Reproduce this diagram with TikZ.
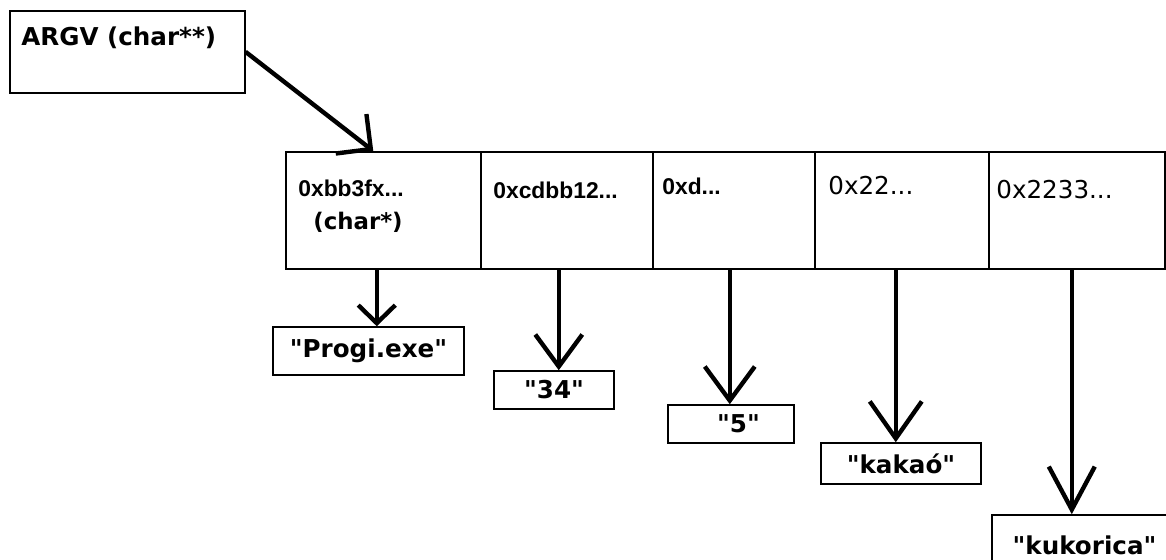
\documentclass[tikz,border=0pt]{standalone}
\usepackage{fontspec}
\setmainfont{DejaVu Sans}[Ligatures=TeXOff]
\newfontfamily\hexfont{Liberation Sans}
\usetikzlibrary{arrows.meta}

\tikzset{
  box/.style={draw, line width=0.9pt, inner sep=0pt, anchor=north west},
  strbox/.style={draw, line width=0.9pt, inner sep=0pt, font=\fontsize{14}{16}\selectfont\bfseries},
  lbl/.style={font=\fontsize{14}{16}\selectfont\bfseries, inner sep=0pt},
  hex/.style={font=\hexfont\fontsize{13}{15}\selectfont\bfseries, inner sep=0pt, anchor=west},
  hexr/.style={font=\fontsize{14}{16}\selectfont, inner sep=0pt, anchor=west},
  ptr/.style={line width=2.5pt, -{Straight Barb[#1]}},
  ptr/.default={length=0.65cm,width=0.95cm}
}

\begin{document}
\begin{tikzpicture}[x=0.02cm, y=-0.02cm]
        \clip (0,0) rectangle (1166,559);
        \fill [white] (0,0) rectangle (1166,559);

        % the argv pointer
        \node [box, minimum width=4.7cm, minimum height=1.64cm] (argv) at (9,10) {};
        \node [lbl, anchor=west] (argvtxt) at (21,38) {ARGV (char**)};

        % the array of char pointers
        \node [box, minimum width=3.9cm, minimum height=2.34cm] (c1) at (285,151) {};
        \node [box, minimum width=3.44cm, minimum height=2.34cm] (c2) at (480,151) {};
        \node [box, minimum width=3.24cm, minimum height=2.34cm] (c3) at (652,151) {};
        \node [box, minimum width=3.48cm, minimum height=2.34cm] (c4) at (814,151) {};
        \node [box, minimum width=3.52cm, minimum height=2.34cm] (c5) at (988,151) {};

        \node [hex] (h1) at (298,188) {0xbb3fx...};
        \node [lbl, font=\fontsize{13}{15}\selectfont\bfseries] (h1t) at (358,222) {(char*)};
        \node [hex] (h2) at (493,190) {0xcdbb12...};
        \node [hex] (h3) at (662,186) {0xd...};
        \node [hexr] (h4) at (828,186) {0x22...};
        \node [hexr] (h5) at (996,190) {0x2233...};

        % the strings
        \node [strbox, minimum width=3.82cm, minimum height=0.96cm] (s1) at (368.5,351) {"Progi.exe"};
        \node [strbox, minimum width=2.4cm, minimum height=0.76cm] (s2) at (554,390) {"34"};
        \node [strbox, minimum width=2.52cm, minimum height=0.76cm] (s3) at (731,424) {\hspace{0.3cm}"5"};
        \node [strbox, minimum width=3.2cm, minimum height=0.82cm] (s4) at (901,463.5) {"kakaó"};
        \node [strbox, minimum width=3.7cm, minimum height=1.2cm] (s5) at (1084.5,545) {"kukorica"};

        % pointers
        \draw [ptr={length=0.5cm,width=1.0cm}] (argv.east) -- ([xshift=-0.2cm]c1.north);
        \draw [ptr={length=0.36cm,width=0.74cm}] ([xshift=-0.13cm]c1.south) -- ([xshift=-0.13cm]c1.south |- s1.north);
        \draw [ptr={length=0.64cm,width=0.94cm}] ([xshift=-0.16cm]c2.south) -- ([xshift=-0.16cm]c2.south |- s2.north);
        \draw [ptr={length=0.68cm,width=1.0cm}] ([xshift=-0.08cm]c3.south) -- ([xshift=-0.08cm]c3.south |- s3.north);
        \draw [ptr={length=0.74cm,width=1.04cm}] ([xshift=-0.12cm]c4.south) -- ([xshift=-0.12cm]c4.south |- s4.north);
        \draw [ptr={length=0.86cm,width=0.92cm}] ([xshift=-0.1cm]c5.south) -- ([xshift=-0.1cm]c5.south |- s5.north);
    \end{tikzpicture}
\end{document}
